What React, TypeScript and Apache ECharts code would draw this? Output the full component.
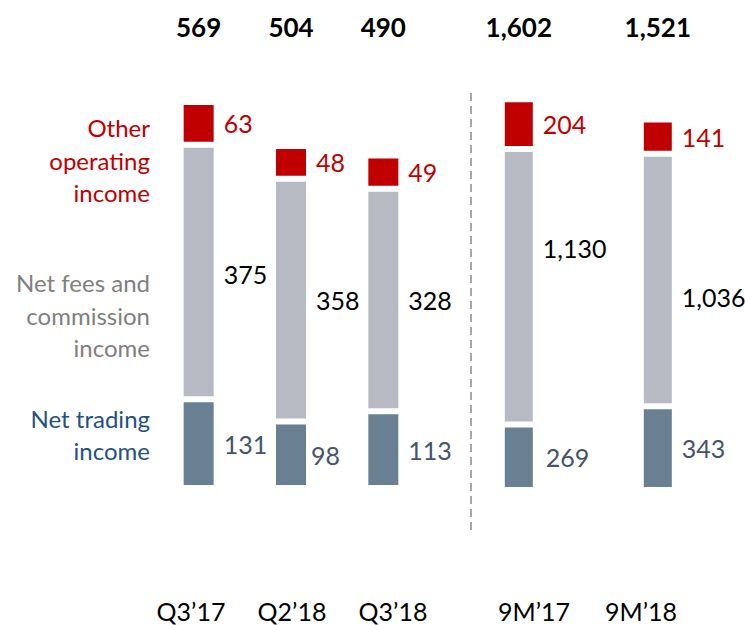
import React, { useEffect, useRef } from 'react';
import * as echarts from 'echarts';

// ---------- data ----------
const quarterCategories = ['Q3’17', 'Q2’18', 'Q3’18'];
const ytdCategories = ['9M’17', '9M’18'];

const seriesNames = ['Net trading income', 'Net fees and commission income', 'Other operating income'];
const legendLines = [
  ['Net trading', 'income'],
  ['Net fees and', 'commission', 'income'],
  ['Other', 'operating', 'income'],
];

const quarterTrading = [131, 98, 113];
const quarterFees = [375, 358, 328];
const quarterOther = [63, 48, 49];
const quarterTotals = [569, 504, 490];

const ytdTrading = [269, 343];
const ytdFees = [1130, 1036];
const ytdOther = [204, 141];
const ytdTotals = [1602, 1521];

// ---------- styling ----------
const FONT = 'Lato, "Open Sans", sans-serif';
const barColors = ['#697F92', '#B7BAC2', '#C00000'];
const valueLabelColors = ['#44546A', '#000000', '#C00000'];
const legendColors = ['#1F5182', '#7F7F7F', '#C00000'];
const legendTops = [402, 266.5, 111.5];
// label nudges [dx, dy] per series (trading, fees, other) and per bar
const quarterLabelNudge = [
  [[0, 0], [-5, 0], [0, 0]],
  [[0, 2], [0, 0], [0, 0]],
  [[0, 0], [0, 0], [0, 0]],
];
const ytdLabelNudge = [
  [[3, 0], [0, 0]],
  [[0, -39], [0, 17]],
  [[0, 0], [0, 0]],
];

const fmt = (v: number) => v.toLocaleString('en-US');

export default function App() {
  const ref = useRef<HTMLDivElement>(null);

  useEffect(() => {
    if (!ref.current) return;
    const chart = echarts.init(ref.current, undefined, { renderer: 'svg' });

    const makeSeries = (
      values: number[][],
      xAxisIndex: number,
      yAxisIndex: number,
      stack: string,
      barWidth: number,
      nudges: number[][][]
    ) =>
      values.map((vals, si) => ({
        name: seriesNames[si],
        type: 'bar',
        stack,
        xAxisIndex,
        yAxisIndex,
        barWidth,
        itemStyle: { color: barColors[si], borderColor: '#ffffff', borderWidth: 3 },
        label: {
          show: true,
          position: 'right',
          distance: 7,
          color: valueLabelColors[si],
          fontSize: 25,
          fontFamily: FONT,
          formatter: (p: any) => fmt(p.value),
        },
        data: vals.map((v, i) => {
          const n = nudges[si][i];
          return n[0] || n[1] ? { value: v, label: { offset: [n[0], n[1]] } } : v;
        }),
      }));

    const gridQTop = 81;
    const gridMTop = 75.5;

    const option: any = {
      animation: false,
      backgroundColor: '#ffffff',
      grid: [
        { left: 152.5, width: 277, top: gridQTop, bottom: 137 },
        { left: 449.3, width: 278, top: gridMTop, bottom: 135 },
        { left: 140.5, width: 303, top: 500, bottom: 35 },
        { left: 480.5, width: 214, top: 500, bottom: 35 },
      ],
      xAxis: [
        {
          type: 'category', gridIndex: 0, data: quarterCategories,
          axisLine: { show: false }, axisTick: { show: false }, axisLabel: { show: false },
        },
        {
          type: 'category', gridIndex: 0, position: 'top', data: quarterTotals.map(fmt),
          axisLine: { show: false }, axisTick: { show: false },
          axisLabel: { margin: gridQTop - 40, fontSize: 26, fontWeight: 'bold', color: '#000', fontFamily: FONT },
        },
        {
          type: 'category', gridIndex: 1, data: ytdCategories,
          axisLine: { show: false }, axisTick: { show: false }, axisLabel: { show: false },
        },
        {
          type: 'category', gridIndex: 1, position: 'top', data: ytdTotals.map(fmt),
          axisLine: { show: false }, axisTick: { show: false },
          axisLabel: { margin: gridMTop - 40, fontSize: 26, fontWeight: 'bold', color: '#000', fontFamily: FONT },
        },
        {
          type: 'category', gridIndex: 2, data: quarterCategories,
          axisLine: { show: false }, axisTick: { show: false },
          axisLabel: { margin: 8, fontSize: 25, color: '#000', fontFamily: FONT },
        },
        {
          type: 'category', gridIndex: 3, data: ytdCategories,
          axisLine: { show: false }, axisTick: { show: false },
          axisLabel: { margin: 8, fontSize: 25, color: '#000', fontFamily: FONT },
        },
      ],
      yAxis: [
        { type: 'value', gridIndex: 0, min: 0, max: 600, show: false, splitLine: { show: false } },
        { type: 'value', gridIndex: 1, min: 0, max: 1700, show: false, splitLine: { show: false } },
        { type: 'value', gridIndex: 2, min: 0, max: 1, show: false, splitLine: { show: false } },
        { type: 'value', gridIndex: 3, min: 0, max: 1, show: false, splitLine: { show: false } },
      ],
      series: [
        ...makeSeries([quarterTrading, quarterFees, quarterOther], 0, 0, 'quarter', 36, quarterLabelNudge),
        ...makeSeries([ytdTrading, ytdFees, ytdOther], 2, 1, 'ytd', 34, ytdLabelNudge),
      ],
      graphic: [
        ...legendLines.map((lines, i) => ({
          type: 'text',
          x: 150,
          y: legendTops[i],
          silent: true,
          style: {
            text: lines.join('\n'),
            align: 'right',
            verticalAlign: 'top',
            lineHeight: 32.5,
            fontSize: 24,
            fontFamily: FONT,
            fill: legendColors[i],
          },
        })),
        {
          type: 'line',
          silent: true,
          shape: { x1: 471, y1: 93, x2: 471, y2: 530 },
          style: { stroke: '#A6A6A6', lineWidth: 2, lineDash: [8, 5] },
        },
      ],
    };

    chart.setOption(option);
    return () => chart.dispose();
  }, []);

  return (
    <div
      ref={ref}
      style={{ position: 'absolute', left: 0, top: 0, width: 745, height: 625, background: '#fff' }}
    />
  );
}
